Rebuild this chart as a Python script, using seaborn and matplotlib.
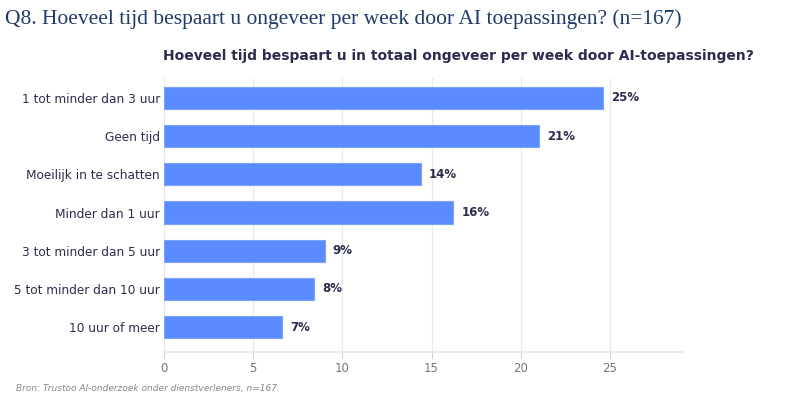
import numpy as np
import pandas as pd
import seaborn as sns
import matplotlib.pyplot as plt

# Data
categories = [
    "1 tot minder dan 3 uur",
    "Geen tijd",
    "Moeilijk in te schatten",
    "Minder dan 1 uur",
    "3 tot minder dan 5 uur",
    "5 tot minder dan 10 uur",
    "10 uur of meer",
]
percentages = [24.6, 21.0, 14.4, 16.2, 9.0, 8.4, 6.6]
value_labels = ["25%", "21%", "14%", "16%", "9%", "8%", "7%"]
x_ticks = [0, 5, 10, 15, 20, 25]

title = "Q8. Hoeveel tijd bespaart u ongeveer per week door AI toepassingen? (n=167)"
subtitle = "Hoeveel tijd bespaart u in totaal ongeveer per week door AI-toepassingen?"
source = "Bron: Trustoo AI-onderzoek onder dienstverleners, n=167."

bar_color = "#5b8cff"
navy = "#2b2d4e"

df = pd.DataFrame({"category": categories, "pct": percentages})

sns.set_theme(style="white")
plt.rcParams['font.family'] = ['DejaVu Sans']

fig = plt.figure(figsize=(7.97, 4.0), dpi=100)
ax = fig.add_axes([164 / 797, 1 - 352 / 400, (683 - 164) / 797, (352 - 78) / 400])

sns.barplot(data=df, x="pct", y="category", color=bar_color, width=0.58,
            edgecolor="#7aa2ff", linewidth=0.8, saturation=1, ax=ax, zorder=3)

ax.set_xlim(0, 29.1)
ax.set_ylim(6.65, -0.52)
ax.set_xticks(x_ticks)
ax.set_xlabel("")
ax.set_ylabel("")
ax.grid(axis="x", color="#e8e8e8", linewidth=0.8, zorder=0)
for side in ["top", "right", "left"]:
    ax.spines[side].set_visible(False)
ax.spines["bottom"].set_color("#ebebeb")
ax.spines["bottom"].set_linewidth(1.5)
ax.tick_params(axis="x", colors="#d0d0d0", length=5, width=0.8, labelsize=8.5,
               labelcolor="#777777", pad=2, bottom=True)
ax.tick_params(axis="y", length=0, labelsize=8.7, labelcolor=navy, pad=3)

for i, (v, lab) in enumerate(zip(percentages, value_labels)):
    ax.annotate(lab, (v, i), xytext=(6, 0), textcoords="offset points",
                va="center", ha="left", fontsize=8.5, fontweight="bold", color=navy)

fig.text(5 / 797, 1 - 19 / 400, title, family="Liberation Serif", fontsize=15.5,
         color="#1f3a6b", va="center", ha="left")
fig.text(458 / 797, 1 - 56 / 400, subtitle, fontsize=10, fontweight="bold",
         color=navy, va="center", ha="center")
fig.text(16 / 797, 1 - 388 / 400, source, fontsize=6.5, style="italic",
         color="#888888", va="center", ha="left")

fig.savefig("out.png", dpi=100)
